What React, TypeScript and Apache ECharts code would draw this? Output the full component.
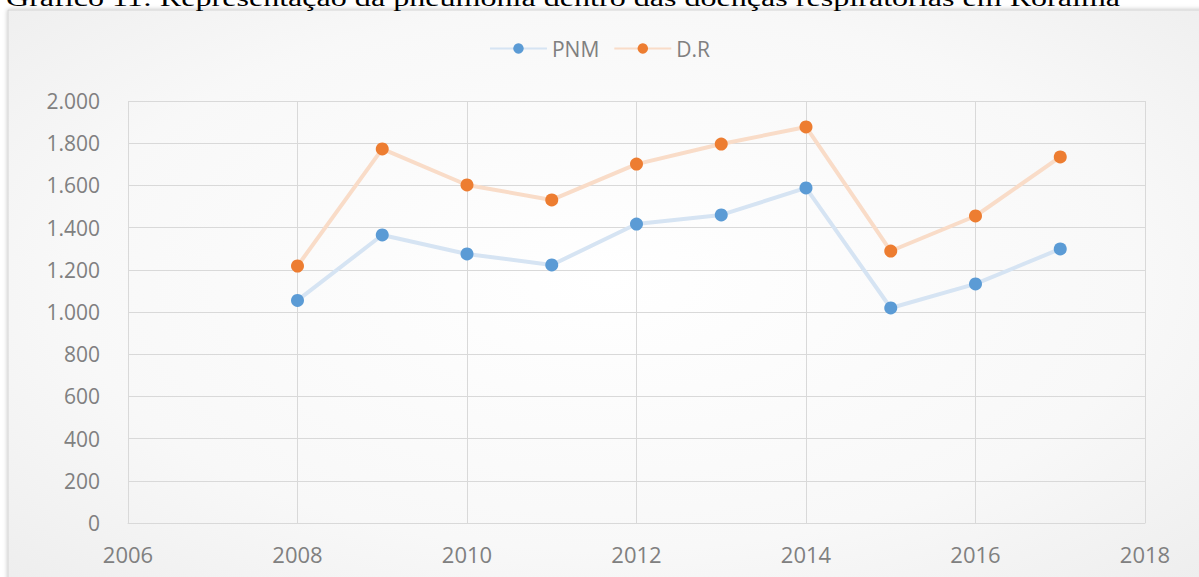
import React, { useEffect, useRef } from "react";
import * as echarts from "echarts";

const years = [2008, 2009, 2010, 2011, 2012, 2013, 2014, 2015, 2016, 2017];
const pnmValues = [1055, 1365, 1275, 1223, 1417, 1460, 1588, 1019, 1133, 1299];
const drValues = [1218, 1773, 1602, 1531, 1701, 1796, 1877, 1289, 1455, 1735];
const seriesNames = ["PNM", "D.R"];
const titleText = "Gráfico 11: Representação da pneumonia dentro das doenças respiratórias em Roraima";

const fmtThousands = (v: number) => {
  const s = String(Math.round(v));
  return s.replace(/\B(?=(\d{3})+(?!\d))/g, ".");
};

export default function App() {
  const ref = useRef<HTMLDivElement>(null);
  useEffect(() => {
    if (!ref.current) return;
    const chart = echarts.init(ref.current, null, { renderer: "svg" });
    const font = "'Open Sans', sans-serif";
    chart.setOption({
      animation: false,
      backgroundColor: "#ffffff",
      graphic: [
        {
          type: "rect",
          z: -10,
          silent: true,
          shape: { x: 8, y: 10, width: 1200, height: 600 },
          style: {
            fill: new echarts.graphic.RadialGradient(0.5, 0.45, 0.75, [
              { offset: 0, color: "#ffffff" },
              { offset: 0.6, color: "#f8f8f8" },
              { offset: 1, color: "#ececec" },
            ]),
            stroke: "#d4d4d4",
            lineWidth: 1,
            shadowBlur: 4,
            shadowColor: "rgba(0,0,0,0.25)",
          },
        },
        {
          type: "text",
          z: 10,
          x: 6,
          y: -14,
          scaleX: 1.337,
          style: {
            text: titleText,
            fontFamily: "'Liberation Serif', 'Times New Roman', serif",
            fontSize: 24,
            fill: "#000000",
            verticalAlign: "top",
          },
        },
      ],
      legend: {
        top: 33,
        left: "center",
        itemWidth: 57,
        itemHeight: 13,
        itemGap: 14,
        textStyle: { fontFamily: font, fontSize: 21, color: "#808080" },
        data: seriesNames,
      },
      grid: { left: 128, right: 54, top: 101, bottom: 54 },
      xAxis: {
        type: "value",
        min: 2006,
        max: 2018,
        interval: 2,
        axisLine: { show: true, lineStyle: { color: "#d9d9d9", width: 1 } },
        axisTick: { show: false },
        splitLine: { show: true, lineStyle: { color: "#d9d9d9", width: 1 } },
        axisLabel: {
          margin: 20,
          fontFamily: font,
          fontSize: 22,
          color: "#808080",
          formatter: (v: number) => String(v),
        },
      },
      yAxis: {
        type: "value",
        min: 0,
        max: 2000,
        interval: 200,
        axisLine: { show: false },
        axisTick: { show: false },
        splitLine: { show: true, lineStyle: { color: "#d9d9d9", width: 1 } },
        axisLabel: {
          margin: 28,
          fontFamily: font,
          fontSize: 21,
          color: "#808080",
          formatter: (v: number) => fmtThousands(v),
        },
      },
      series: [
        {
          name: seriesNames[0],
          type: "line",
          data: years.map((y, i) => [y, pnmValues[i]]),
          symbol: "circle",
          symbolSize: 13,
          itemStyle: { color: "#5B9BD5" },
          lineStyle: { color: "#d6e4f3", width: 4 },
        },
        {
          name: seriesNames[1],
          type: "line",
          data: years.map((y, i) => [y, drValues[i]]),
          symbol: "circle",
          symbolSize: 13,
          itemStyle: { color: "#ED7D31" },
          lineStyle: { color: "#f9dcc8", width: 4 },
        },
      ],
    });
    return () => chart.dispose();
  }, []);
  return (
    <div
      ref={ref}
      style={{ position: "fixed", left: 0, top: 0, width: 1199, height: 577 }}
    />
  );
}
